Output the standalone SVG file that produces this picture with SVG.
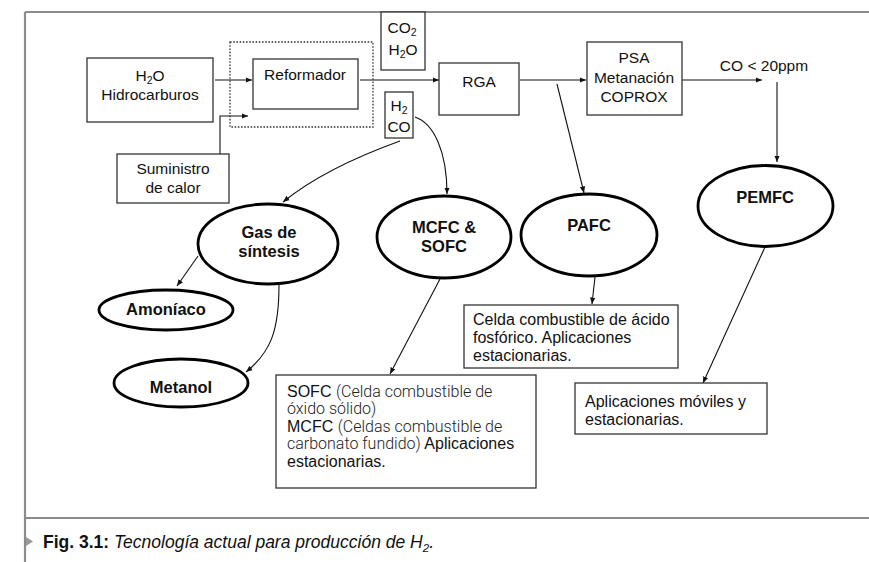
<svg xmlns="http://www.w3.org/2000/svg" width="869" height="562" viewBox="0 0 869 562">
<defs>
<style>
.bg{fill:#fff}
.frame{stroke:#8c8c8c;stroke-width:2.2;fill:none}
.box{fill:#fff;stroke:#333;stroke-width:1.3}
.dotted{fill:none;stroke:#333;stroke-width:1.3;stroke-dasharray:1.6,1.6}
.ell{fill:#fff;stroke:#000;stroke-width:2.8}
.conn{fill:none;stroke:#111;stroke-width:1.1}
.t{font-family:"Liberation Sans",Arial,sans-serif;font-size:15.5px;fill:#111;text-anchor:middle}
.tb{font-family:"Liberation Sans",Arial,sans-serif;font-size:16.5px;font-weight:bold;fill:#111;text-anchor:middle}
.td{font-family:"Liberation Sans",Arial,sans-serif;font-size:16px;fill:#111}
.lt{font-family:Roboto,"Liberation Sans",Arial,sans-serif;font-weight:300;fill:#222}
.sub{font-size:10.5px}
.cap{font-family:"Liberation Sans",Arial,sans-serif;font-size:17.5px;fill:#111}
</style>
<marker id="arr" markerWidth="7" markerHeight="6" refX="6.5" refY="3" orient="auto" markerUnits="userSpaceOnUse">
<path d="M0,0.3 L6.5,3 L0,5.7 Z" fill="#111"/>
</marker>
</defs>
<rect class="bg" x="0" y="0" width="869" height="562"/>

<g id="frame">
<path class="frame" d="M25,12 H869 M25,12 V562 M25,518 H869"/>
<path d="M26,537 L33,541.5 L26,546 Z" fill="#9a9a9a"/>
</g>

<g id="connectors">
<path class="conn" d="M215,80 H252" marker-end="url(#arr)"/>
<path class="conn" d="M220,154 V116 H248" marker-end="url(#arr)"/>
<path class="conn" d="M360,80 H439" marker-end="url(#arr)"/>
<path class="conn" d="M520,80 H586" marker-end="url(#arr)"/>
<path class="conn" d="M682,80 H762" marker-end="url(#arr)"/>
<path class="conn" d="M777,82 V162" marker-end="url(#arr)"/>
<path class="conn" d="M557,84 L584,193" marker-end="url(#arr)"/>
<path class="conn" d="M415,117 C433,123 447,150 447,194" marker-end="url(#arr)"/>
<path class="conn" d="M400,141 Q325,168 283,202" marker-end="url(#arr)"/>
<path class="conn" d="M198,256 L177,286" marker-end="url(#arr)"/>
<path class="conn" d="M279,285 C279,330 271,352 246,372" marker-end="url(#arr)"/>
<path class="conn" d="M440,279 L390,374" marker-end="url(#arr)"/>
<path class="conn" d="M595,277 L592,304" marker-end="url(#arr)"/>
<path class="conn" d="M765,247 L703,383" marker-end="url(#arr)"/>
</g>

<g id="reformer-zone">
<rect class="dotted" x="230" y="42" width="143" height="85"/>
</g>

<g id="feed">
<rect class="box" x="87" y="58" width="126" height="64"/>
<text class="t" x="150" y="81">H<tspan class="sub" dy="3">2</tspan><tspan dy="-3">O</tspan></text>
<text class="t" x="150" y="100">Hidrocarburos</text>
</g>

<g id="reformador">
<rect class="box" x="253" y="59" width="105" height="50"/>
<text class="t" x="305" y="80">Reformador</text>
</g>

<g id="calor">
<rect class="box" x="117" y="154" width="112" height="49"/>
<text class="t" x="173" y="174">Suministro</text>
<text class="t" x="173" y="193">de calor</text>
</g>

<g id="co2-h2o">
<rect class="box" x="381" y="12" width="44" height="58"/>
<text class="t" x="402" y="33">CO<tspan class="sub" dy="3">2</tspan></text>
<text class="t" x="403" y="55">H<tspan class="sub" dy="3">2</tspan><tspan dy="-3">O</tspan></text>
</g>

<g id="h2-co">
<rect class="box" x="385" y="92" width="28" height="46"/>
<text class="t" x="399" y="111">H<tspan class="sub" dy="3">2</tspan></text>
<text class="t" x="399" y="132">CO</text>
</g>

<g id="rga">
<rect class="box" x="439" y="63" width="80" height="52"/>
<text class="t" x="479" y="87">RGA</text>
</g>

<g id="psa">
<rect class="box" x="587" y="42" width="95" height="73"/>
<text class="t" x="634" y="63">PSA</text>
<text class="t" x="634" y="83">Metanación</text>
<text class="t" x="634" y="102">COPROX</text>
</g>

<g id="co-label">
<text class="t" x="764" y="71">CO &lt; 20ppm</text>
</g>

<g id="gas-sintesis">
<ellipse class="ell" cx="268" cy="244" rx="70" ry="40"/>
<text class="tb" x="269" y="238">Gas de</text>
<text class="tb" x="269" y="257">síntesis</text>
</g>

<g id="mcfc-sofc">
<ellipse class="ell" cx="444" cy="237" rx="67" ry="41"/>
<text class="tb" x="444" y="233">MCFC &amp;</text>
<text class="tb" x="444" y="252">SOFC</text>
</g>

<g id="pafc">
<ellipse class="ell" cx="589" cy="235" rx="68" ry="41"/>
<text class="tb" x="589" y="231">PAFC</text>
</g>

<g id="pemfc">
<ellipse class="ell" cx="765.5" cy="206" rx="67.5" ry="40.5"/>
<text class="tb" x="765" y="203">PEMFC</text>
</g>

<g id="amoniaco">
<ellipse class="ell" cx="166" cy="310" rx="67" ry="20"/>
<text class="tb" x="166" y="315">Amoníaco</text>
</g>

<g id="metanol">
<ellipse class="ell" cx="181" cy="383" rx="67" ry="24"/>
<text class="tb" x="181" y="393">Metanol</text>
</g>

<g id="pafc-desc">
<rect class="box" x="464" y="305" width="214" height="63"/>
<text class="td" x="473" y="325">Celda combustible de ácido</text>
<text class="td" x="473" y="343">fosfórico. Aplicaciones</text>
<text class="td" x="473" y="361">estacionarias.</text>
</g>

<g id="sofc-desc">
<rect class="box" x="276" y="375" width="260" height="113"/>
<text class="td" x="287" y="397">SOFC <tspan class="lt">(Celda combustible de</tspan></text>
<text class="td" x="287" y="414"><tspan class="lt">óxido sólido)</tspan></text>
<text class="td" x="287" y="432">MCFC <tspan class="lt">(Celdas combustible de</tspan></text>
<text class="td" x="287" y="449"><tspan class="lt">carbonato fundido)</tspan> Aplicaciones</text>
<text class="td" x="287" y="467">estacionarias.</text>
</g>

<g id="pemfc-desc">
<rect class="box" x="575" y="383" width="192" height="51"/>
<text class="td" x="585" y="407">Aplicaciones móviles y</text>
<text class="td" x="585" y="425">estacionarias.</text>
</g>

<g id="caption">
<text class="cap" x="43" y="548"><tspan font-weight="bold">Fig. 3.1:</tspan> <tspan font-style="italic">Tecnología actual para producción de H<tspan font-size="11.5px" dy="4">2</tspan><tspan dy="-4">.</tspan></tspan></text>
</g>
</svg>
